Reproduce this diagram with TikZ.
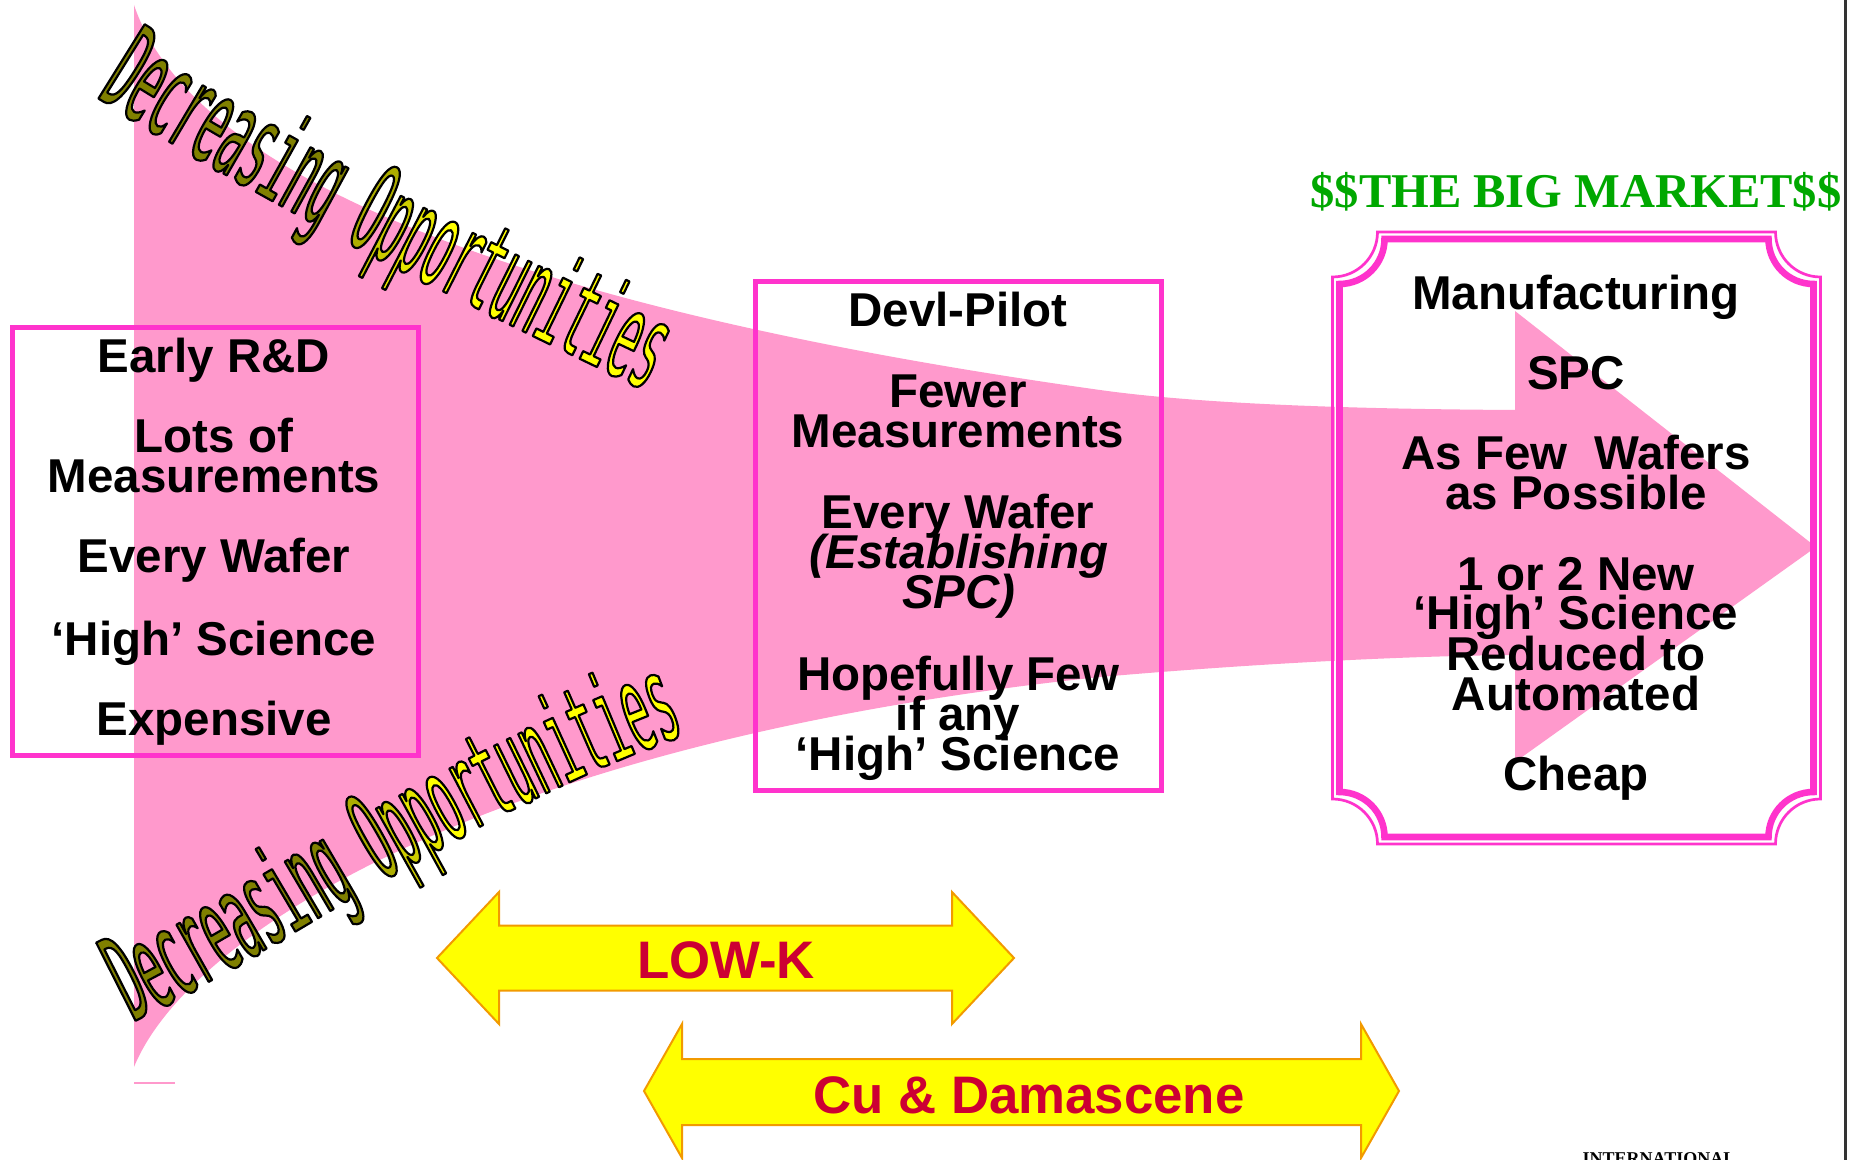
\documentclass[tikz,border=0pt]{standalone}
\usepackage{fontspec}
\setmainfont{Liberation Sans}
\newfontfamily\serifb{Liberation Serif}
\newfontfamily\wafont[FakeStretch=0.36]{DejaVu Sans Mono}
\usetikzlibrary{decorations.text}
\definecolor{pinkfill}{HTML}{FF99CC}
\definecolor{boxmag}{HTML}{FF33CC}
\definecolor{mkgreen}{HTML}{00A800}
\definecolor{tred}{HTML}{CC0033}
\definecolor{arrowedge}{HTML}{F29A00}
\definecolor{arrowfill}{HTML}{FFFF00}
\definecolor{waA}{rgb}{0.5,0.5,0}
\definecolor{waB}{rgb}{0.68,0.68,0}
\definecolor{waC}{rgb}{0.8,0.8,0}
\definecolor{waD}{rgb}{0.9,0.9,0}
\definecolor{waE}{rgb}{1,1,0}
\newcommand\waoutl{\special{pdf:literal direct 0 0 0 RG 1.1 w 1 j 2 Tr}}
\newcommand\wafmt{\wafont\fontsize{60}{60}\selectfont}
\newcommand\waA{\wafmt\color{waA}\waoutl}
\newcommand\waB{\wafmt\color{waB}\waoutl}
\newcommand\waC{\wafmt\color{waC}\waoutl}
\newcommand\waD{\wafmt\color{waD}\waoutl}
\newcommand\waE{\wafmt\color{waE}\waoutl}
\tikzset{
  txt/.style={font=\bfseries\fontsize{23.75}{24}\selectfont, anchor=base, inner sep=0pt},
  itxt/.style={font=\bfseries\itshape\fontsize{23.75}{24}\selectfont, anchor=base, inner sep=0pt},
  boxline/.style={draw=boxmag, line width=2.5pt},
  yarrow/.style={fill=arrowfill, draw=arrowedge, line width=1pt, line join=miter},
  arrowlabel/.style={font=\bfseries\fontsize{26.4}{27}\selectfont, text=tred, anchor=base, inner sep=0pt},
  wordart/.style={decorate, decoration={text along path, text align=left}}
}
\begin{document}
\begin{tikzpicture}[x=0.5pt,y=-0.5pt]
\useasboundingbox (0,0) rectangle (1854,1160);
\clip (0,0) rectangle (1854,1160);
\fill[white] (0,0) rectangle (1854,1160);

% pink funnel arrow
\fill[pinkfill] (134,5) .. controls (200,200) and (600,320) .. (1100,390)
  .. controls (1200,404) and (1350,409) .. (1515,410)
  -- (1515,311) -- (1816,547) -- (1515,762) -- (1515,655)
  .. controls (1400,656) and (1250,664) .. (1100,677)
  .. controls (500,740) and (190,930) .. (134,1067) -- cycle;
\draw[pinkfill, line width=0.75pt] (134,1083) -- (175,1083);

% boxes
\draw[boxline] (12.5,327.5) rectangle (418,755.5);
\draw[boxline] (755.5,282) rectangle (1161.5,790);

% plaque frame (right box)
\draw[white, line width=1.2pt]
  (1336,239.5) .. controls (1360.8,239.5) and (1381,259.7) .. (1381,235.5)
  -- (1772,235.5) .. controls (1772,259.7) and (1792.2,280.5) .. (1817,280.5)
  -- (1817,796.5) .. controls (1792.2,796.5) and (1772,816.7) .. (1772,840.5)
  -- (1381,840.5) .. controls (1381,816.7) and (1360.8,796.5) .. (1336,796.5) -- cycle;
\draw[boxmag, line width=1.35pt]
  (1332.5,277) .. controls (1357.4,277) and (1377.5,256.9) .. (1377.5,232)
  -- (1775.5,232) .. controls (1775.5,256.9) and (1795.6,277) .. (1820.5,277)
  -- (1820.5,799) .. controls (1795.6,799) and (1775.5,819.1) .. (1775.5,844)
  -- (1377.5,844) .. controls (1377.5,819.1) and (1357.4,799) .. (1332.5,799) -- cycle;
\draw[boxmag, line width=3.3pt]
  (1339.5,284) .. controls (1364.4,284) and (1384.5,263.9) .. (1384.5,239)
  -- (1768.5,239) .. controls (1768.5,263.9) and (1788.6,284) .. (1813.5,284)
  -- (1813.5,792) .. controls (1788.6,792) and (1768.5,812.1) .. (1768.5,837)
  -- (1384.5,837) .. controls (1384.5,812.1) and (1364.4,792) .. (1339.5,792) -- cycle;

% left box text
\node[txt] (l1) at (214,373) {Early R\&D};
\node[txt] (l2) at (214,453) {Lots of};
\node[txt] (l3) at (214,493) {Measurements};
\node[txt] (l4) at (214,573) {Every Wafer};
\node[txt] (l5) at (214,655) {‘High’ Science};
\node[txt] (l6) at (214,735) {Expensive};

% middle box text
\node[txt] (m1) at (958,327) {Devl-Pilot};
\node[txt] (m2) at (958,408) {Fewer};
\node[txt] (m3) at (958,448) {Measurements};
\node[txt] (m4) at (958,529) {Every Wafer};
\node[itxt] (m5) at (959,569) {(Establishing};
\node[itxt] (m6) at (959,609) {SPC)};
\node[txt] (m7) at (958,690) {Hopefully Few};
\node[txt] (m8) at (958,730) {if any};
\node[txt] (m9) at (958,770) {‘High’ Science};

% right box text
\node[font=\serifb\bfseries\fontsize{24.25}{25}\selectfont, text=mkgreen, anchor=base, inner sep=0pt] (title) at (1576,208) {\$\$THE BIG MARKET\$\$};
\node[txt] (r1) at (1576,310) {Manufacturing};
\node[txt] (r2) at (1576,390) {SPC};
\node[txt] (r3) at (1576,470) {As Few\ \ Wafers};
\node[txt] (r4) at (1576,510) {as Possible};
\node[txt] (r5) at (1576,590) {1 or 2 New};
\node[txt] (r6) at (1576,630) {‘High’ Science};
\node[txt] (r7) at (1576,670) {Reduced to};
\node[txt] (r8) at (1576,710) {Automated};
\node[txt] (r9) at (1576,790) {Cheap};

% yellow double arrows
\draw[yarrow] (437,958) -- (499,892) -- (499,925.5) -- (952,925.5) -- (952,892) -- (1014,958)
  -- (952,1024) -- (952,990.5) -- (499,990.5) -- (499,1024) -- cycle;
\node[arrowlabel] (lowk) at (726,978) {LOW-K};
\draw[yarrow] (644,1091) -- (682,1024) -- (682,1059) -- (1361,1059) -- (1361,1024) -- (1399,1091)
  -- (1361,1158) -- (1361,1125) -- (682,1125) -- (682,1158) -- cycle;
\node[arrowlabel] (cu) at (1029,1113) {Cu \& Damascene};

% footer and right rule
\node[font=\serifb\bfseries\fontsize{9}{10}\selectfont, anchor=base, inner sep=0pt] (intl) at (1659,1164) {INTERNATIONAL};
\draw[black!80, line width=1.5pt] (1845,0) -- (1845,1160);

% word-art texts
\path[wordart, decoration={text={|\waA|Decreasing |\waB|O|\waC|p|\waD|p|\waE|ortunities}}]
  (96,97) .. controls (260,200) and (440,295) .. (720,425);
\path[wordart, decoration={text={|\waA|Decreasing |\waB|O|\waC|p|\waD|p|\waE|ortunities}}]
  (133,1022) .. controls (300,940) and (480,800) .. (740,715);
\pgfextra{\special{pdf:literal direct 0 Tr}}
\end{tikzpicture}
\end{document}
